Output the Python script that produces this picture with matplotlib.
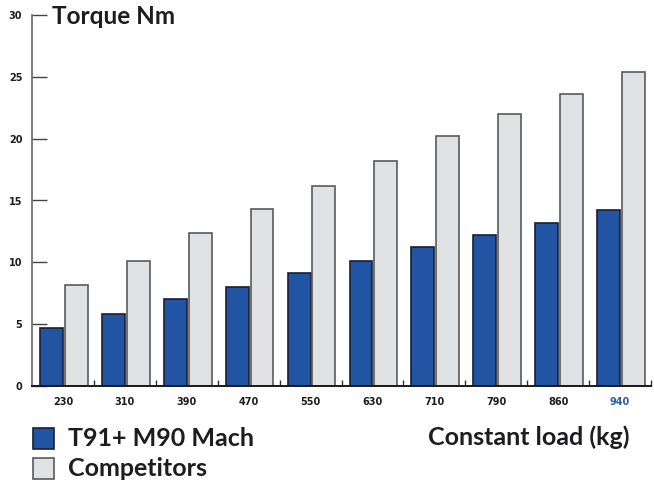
import numpy as np
from matplotlib import pyplot as plt
from matplotlib.patches import Rectangle

loads = ['230', '310', '390', '470', '550', '630', '710', '790', '860', '940']
mach = [4.7, 5.8, 7.0, 8.0, 9.1, 10.1, 11.2, 12.2, 13.2, 14.2]
competitors = [8.2, 10.1, 12.4, 14.3, 16.2, 18.2, 20.2, 22.0, 23.6, 25.4]
yticks = [0, 5, 10, 15, 20, 25, 30]

BLUE = '#2254a4'
GREY = '#e0e1e3'
FONT = 'Lato'
TICKFONT = 'DejaVu Sans'

fig = plt.figure(figsize=(6.54, 4.86), dpi=100)
ax = fig.add_axes([32 / 654, 1 - 386 / 486, 619 / 654, 371 / 486])

x = np.arange(len(loads))
ax.bar(x - 0.185, mach, width=0.37, color=BLUE, edgecolor='#1a1f33', linewidth=1.2)
ax.bar(x + 0.215, competitors, width=0.37, color=GREY, edgecolor='#5a5a5a', linewidth=1.2)

ax.set_xlim(-0.5, len(loads) - 0.5)
ax.set_ylim(0, 30)

for s in ['top', 'right']:
    ax.spines[s].set_visible(False)
ax.spines['left'].set_color('#666666')
ax.spines['left'].set_linewidth(1.2)
ax.spines['bottom'].set_color('#1a1a1a')
ax.spines['bottom'].set_linewidth(1.4)

ax.set_yticks(yticks)
ax.set_yticklabels([str(v) for v in yticks], fontfamily=TICKFONT, fontweight='bold',
                   fontsize=7, color='#1d1d1f')
ax.tick_params(axis='y', direction='in', length=11, width=1.0, color='#444444', pad=7)

ax.set_xticks(x)
ax.set_xticklabels(loads, fontfamily=TICKFONT, fontweight='bold', fontsize=7, color='#1d1d1f')
ax.get_xticklabels()[-1].set_color('#2a5db0')
ax.tick_params(axis='x', which='major', length=0, pad=8)
ax.set_xticks(np.arange(0.5, len(loads)), minor=True)
ax.tick_params(axis='x', which='minor', direction='in', length=4.5, width=1.0, color='#333333')

fig.text(52 / 654, 1 - 17 / 486, 'Torque Nm', fontfamily=FONT, fontweight='bold',
         fontsize=17.5, color='#1d1d1f', va='center', ha='left')
fig.text(629 / 654, 1 - 437 / 486, 'Constant load (kg)', fontfamily=FONT, fontweight='bold',
         fontsize=18, color='#1d1d1f', va='center', ha='right')

# legend
for i, (lab, col, ec) in enumerate([('T91+ M90 Mach', BLUE, '#1a1f33'),
                                    ('Competitors', GREY, '#5a5a5a')]):
    y0 = 428 + i * 30
    fig.patches.append(Rectangle((33 / 654, 1 - (y0 + 21) / 486), 21 / 654, 21 / 486,
                                 transform=fig.transFigure, facecolor=col, edgecolor=ec,
                                 linewidth=1.2))
    fig.text(68 / 654, 1 - (y0 + 10) / 486, lab, fontfamily=FONT, fontweight='bold',
             fontsize=18, color='#1d1d1f', va='center', ha='left')

plt.savefig('out.png', dpi=100)
plt.close()
